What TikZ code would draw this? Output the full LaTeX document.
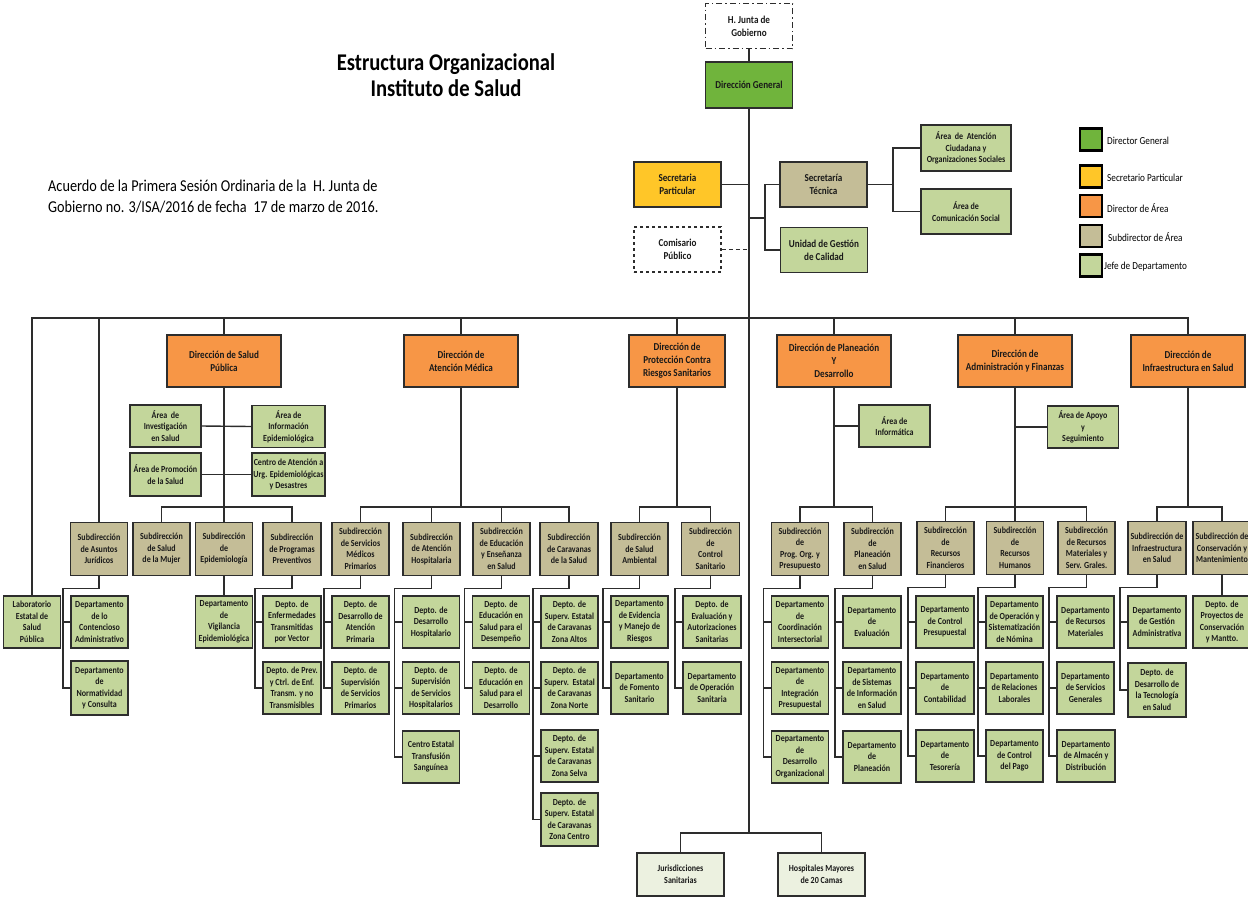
\documentclass[tikz,border=0pt]{standalone}
\usepackage{fontspec}
\setmainfont[FakeStretch=0.86]{Carlito}

\definecolor{dggreen}{RGB}{112,180,60}
\definecolor{spyellow}{RGB}{255,198,40}
\definecolor{dirorange}{RGB}{247,150,70}
\definecolor{subtan}{RGB}{196,189,151}
\definecolor{deptgreen}{RGB}{195,214,155}
\definecolor{palegreen}{RGB}{236,241,224}
\definecolor{linegray}{RGB}{45,45,45}

\newcommand{\dirfont}{\bfseries\fontsize{10.6}{13}\selectfont}
\newcommand{\deptfont}{\bfseries\fontsize{9.3}{11.5}\selectfont}

\tikzset{
  box/.style={draw=linegray, line width=1.7pt, align=center, inner sep=0pt, text=black!90},
  headbox/.style={box, minimum width=87, minimum height=45, font=\dirfont},
  dirbox/.style={box, fill=dirorange, minimum width=114, minimum height=52, font=\dirfont},
  areabox/.style={box, fill=deptgreen, minimum width=71, minimum height=42, font=\deptfont},
  subbox/.style={box, fill=subtan, minimum width=57, minimum height=53, font=\deptfont},
  deptbox/.style={box, fill=deptgreen, minimum width=57, minimum height=52, font=\deptfont},
  fieldbox/.style={box, fill=palegreen, minimum width=87, minimum height=43, font=\deptfont},
  legsq/.style={draw=black, line width=2.4pt, minimum size=22, inner sep=0pt},
  legtxt/.style={anchor=west, inner sep=0pt, font=\fontsize{10.7}{12}\selectfont},
  link/.style={draw=linegray, line width=1.4pt}
}

\begin{document}
\begin{tikzpicture}[x=1pt,y=-1pt]
\useasboundingbox (0,0) rectangle (1248,898);

% titles
\node[align=center, font=\bfseries\fontsize{24}{26}\selectfont] (title) at (446,75) {Estructura Organizacional\\Instituto de Salud};
\node[anchor=west, align=left, inner sep=0pt, font=\fontsize{16.6}{21.5}\selectfont] (acuerdo) at (48,196.5) {Acuerdo de la Primera Sesión Ordinaria de la\ \ H. Junta de\\Gobierno no. 3/ISA/2016 de fecha\ \ 17 de marzo de 2016.};

% top level
\node[headbox, fill=white, dash pattern=on 6pt off 3pt on 1.5pt off 3pt] (junta) at (749,26) {H. Junta de\\Gobierno};
\node[headbox, fill=dggreen, minimum height=46] (dg) at (749,85) {Dirección General};
\node[headbox, fill=spyellow] (sp) at (677.5,184.5) {Secretaria\\Particular};
\node[headbox, fill=subtan] (st) at (823.5,184.5) {Secretaría\\Técnica};
\node[headbox, fill=white, dashed] (cp) at (677.5,249.5) {Comisario\\Público};
\node[headbox, fill=deptgreen] (ugc) at (824,250) {Unidad de Gestión\\de Calidad};
\node[areabox, minimum width=90, minimum height=46] (aac) at (966,148) {Área\ \ de\ \ Atención\\Ciudadana y\\Organizaciones Sociales};
\node[areabox, minimum width=90, minimum height=45] (acs) at (966,211.5) {Área de\\Comunicación Social};

% legend
\node[legsq, fill=dggreen] (lg1) at (1091,139.5) {};
\node[legsq, fill=spyellow] (lg2) at (1091,176.5) {};
\node[legsq, fill=dirorange] (lg3) at (1091,206) {};
\node[legsq, fill=subtan] (lg4) at (1091,236) {};
\node[legsq, fill=deptgreen] (lg5) at (1091,265.5) {};
\node[legtxt] (lt1) at (1107,141) {Director General};
\node[legtxt] (lt2) at (1107,178) {Secretario Particular};
\node[legtxt] (lt3) at (1107,208) {Director de Área};
\node[legtxt] (lt4) at (1108,237) {Subdirector de Área};
\node[legtxt] (lt5) at (1104,267) {Jefe de Departamento};

% direcciones
\node[dirbox] (dsp) at (224,361) {Dirección de Salud\\Pública};
\node[dirbox] (dam) at (461,361) {Dirección de\\Atención Médica};
\node[dirbox, minimum width=96] (dpc) at (677,361) {Dirección de\\Protección Contra\\Riesgos Sanitarios};
\node[dirbox] (dpd) at (834,361) {Dirección de Planeación\\Y\\Desarrollo};
\node[dirbox] (daf) at (1015,361) {Dirección de\\Administración y Finanzas};
\node[dirbox] (dis) at (1188,361) {Dirección de\\Infraestructura en Salud};

% areas
\node[areabox] (ainv) at (165.5,426) {Área\ \ de\\Investigación\\en Salud};
\node[areabox, minimum width=73] (ainf) at (288.5,426.5) {Área de\\Información\\Epidemiológica};
\node[areabox, minimum height=43] (aprom) at (165.5,474.5) {Área de Promoción\\de la Salud};
\node[areabox, minimum width=73, minimum height=43] (caten) at (288.5,474.5) {Centro de Atención a\\Urg. Epidemiológicas\\y Desastres};
\node[areabox] (ainfo) at (894.5,426) {Área de\\Informática};
\node[areabox] (aapoyo) at (1083,427) {Área de Apoyo\\y\\Seguimiento};

% subdirecciones
\node[subbox] (saj) at (99,549) {Subdirección\\de Asuntos\\Jurídicos};
\node[subbox] (smuj) at (161.5,549) {Subdirección\\de Salud\\de la Mujer};
\node[subbox] (sepi) at (224,549) {Subdirección\\de\\Epidemiología};
\node[subbox, minimum width=58] (sprog) at (292,549) {Subdirección\\de Programas\\Preventivos};
\node[subbox] (ssmp) at (360.5,549) {Subdirección\\de Servicios\\Médicos\\Primarios};
\node[subbox] (sah) at (431.5,549) {Subdirección\\de Atención\\Hospitalaria};
\node[subbox] (see) at (501.5,549) {Subdirección\\de Educación\\y Enseñanza\\en Salud};
\node[subbox, minimum width=58] (scar) at (569,549) {Subdirección\\de Caravanas\\de la Salud};
\node[subbox] (ssa) at (639.5,549) {Subdirección\\de Salud\\Ambiental};
\node[subbox, minimum width=58] (scs) at (710.5,549) {Subdirección\\de\\Control\\Sanitario};
\node[subbox] (sprg) at (800,549) {Subdirección\\de\\Prog. Org. y\\Presupuesto};
\node[subbox] (splan) at (872.5,549) {Subdirección\\de\\Planeación\\en Salud};
\node[subbox] (srf) at (945.5,548) {Subdirección\\de\\Recursos\\Financieros};
\node[subbox] (srh) at (1015,548) {Subdirección\\de\\Recursos\\Humanos};
\node[subbox] (srm) at (1086.5,548) {Subdirección\\de Recursos\\Materiales y\\Serv. Grales.};
\node[subbox, minimum width=58] (sinf) at (1157,548) {Subdirección de\\Infraestructura\\en Salud};
\node[subbox, minimum width=58] (scons) at (1222,548) {Subdirección de\\Conservación y\\Mantenimiento};

% departamentos
\node[deptbox] (lab) at (32,622) {Laboratorio\\Estatal de\\Salud\\Pública};
\node[deptbox] (dcont) at (99.5,622) {Departamento\\de lo\\Contencioso\\Administrativo};
\node[deptbox, minimum height=54] (dnorm) at (99.5,688) {Departamento\\de\\Normatividad\\y Consulta};
\node[deptbox] (dvig) at (224,622) {Departamento\\de\\Vigilancia\\Epidemiológica};
\node[deptbox, minimum width=58] (denf) at (292,622) {Depto. de\\Enfermedades\\Transmitidas\\por Vector};
\node[deptbox, minimum width=58] (dprev) at (292,688) {Depto. de Prev.\\y Ctrl. de Enf.\\Transm. y no\\Transmisibles};
\node[deptbox] (ddap) at (360.5,622) {Depto. de\\Desarrollo de\\Atención\\Primaria};
\node[deptbox] (dssp) at (360.5,688) {Depto. de\\Supervisión\\de Servicios\\Primarios};
\node[deptbox] (ddh) at (431,622) {Depto. de\\Desarrollo\\Hospitalario};
\node[deptbox] (dssh) at (431,688) {Depto. de\\Supervisión\\de Servicios\\Hospitalarios};
\node[deptbox] (cets) at (431,757) {Centro Estatal\\Transfusión\\Sanguínea};
\node[deptbox] (dedes) at (501,622) {Depto. de\\Educación en\\Salud para el\\Desempeño};
\node[deptbox] (dedesa) at (501,688) {Depto. de\\Educación en\\Salud para el\\Desarrollo};
\node[deptbox] (dzalt) at (569.5,622) {Depto. de\\Superv. Estatal\\de Caravanas\\Zona Altos};
\node[deptbox] (dznor) at (569.5,688) {Depto. de\\Superv.\ \ Estatal\\de Caravanas\\Zona Norte};
\node[deptbox] (dzsel) at (569.5,756) {Depto. de\\Superv. Estatal\\de Caravanas\\Zona Selva};
\node[deptbox, minimum height=53] (dzcen) at (569.5,819.5) {Depto. de\\Superv. Estatal\\de Caravanas\\Zona Centro};
\node[deptbox] (devi) at (639.5,622) {Departamento\\de Evidencia\\y Manejo de\\Riesgos};
\node[deptbox] (dfom) at (639.5,688) {Departamento\\de Fomento\\Sanitario};
\node[deptbox, minimum width=58] (deval) at (712,622) {Depto. de\\Evaluación y\\Autorizaciones\\Sanitarias};
\node[deptbox, minimum width=58] (dops) at (712,688) {Departamento\\de Operación\\Sanitaria};
\node[deptbox] (dcoord) at (800,622) {Departamento\\de\\Coordinación\\Intersectorial};
\node[deptbox] (dinteg) at (800,688) {Departamento\\de\\Integración\\Presupuestal};
\node[deptbox] (ddorg) at (800,757) {Departamento\\de\\Desarrollo\\Organizacional};
\node[deptbox, minimum width=58] (deval2) at (872,622) {Departamento\\de\\Evaluación};
\node[deptbox, minimum width=58] (dsis) at (872,688) {Departamento\\de Sistemas\\de Información\\en Salud};
\node[deptbox, minimum width=58] (dplan) at (872,757) {Departamento\\de\\Planeación};
\node[deptbox, minimum width=58] (dcpres) at (945,622) {Departamento\\de Control\\Presupuestal};
\node[deptbox, minimum width=58] (dcont2) at (945,688) {Departamento\\de\\Contabilidad};
\node[deptbox, minimum width=58] (dtes) at (945,756) {Departamento\\de\\Tesorería};
\node[deptbox] (doper) at (1014.5,622) {Departamento\\de Operación y\\Sistematización\\de Nómina};
\node[deptbox] (drel) at (1014.5,688) {Departamento\\de Relaciones\\Laborales};
\node[deptbox] (dpago) at (1014.5,756) {Departamento\\de Control\\del Pago};
\node[deptbox] (drmat) at (1085.5,622) {Departamento\\de Recursos\\Materiales};
\node[deptbox] (dsgen) at (1085.5,688) {Departamento\\de Servicios\\Generales};
\node[deptbox, minimum width=58] (dalm) at (1086,756) {Departamento\\de Almacén y\\Distribución};
\node[deptbox, minimum width=58] (dgest) at (1157,622) {Departamento\\de Gestión\\Administrativa};
\node[deptbox, minimum width=58, minimum height=54] (ddtec) at (1157,690) {Depto. de\\Desarrollo de\\la Tecnología\\en Salud};
\node[deptbox, minimum width=58] (dproy) at (1222,622) {Depto. de\\Proyectos de\\Conservación\\y Mantto.};

% jurisdicciones y hospitales
\node[fieldbox] (jur) at (680.5,874.5) {Jurisdicciones\\Sanitarias};
\node[fieldbox] (hosp) at (821.5,874.5) {Hospitales Mayores\\de 20 Camas};

% connectors, top
\coordinate (dirbar) at (0,318);
\coordinate (subbar) at (0,507);
\coordinate (split) at (749,833);
\coordinate (stj) at (765,218);
\coordinate (stb) at (893,184.5);
\path[draw,link] (junta.south) -- (dg.north);
\path[draw,link] (dg.south) -- (split);
\path[draw,link] (sp.east) -- (sp.east -| dg);
\path[draw,link] (stj -| dg) -- (stj);
\path[draw,link] (st.west) -| (stj) |- (ugc.west);
\path[draw,link,dash pattern=on 4pt off 3pt] (cp.east) -- (cp.east -| dg);
\path[draw,link] (st.east) -- (stb);
\path[draw,link] (aac.west) -| (stb) |- (acs.west);
\path[draw,link] (jur.north) |- (split) -| (hosp.north);

% connectors, direcciones
\path[draw,link] (lab.north) |- (dis.north |- dirbar) -- (dis.north);
\foreach \n in {saj,dsp,dam,dpc,dpd,daf}
  \path[draw,link] (\n.north) -- (\n.north |- dirbar);
\path[draw,link] (ainv.east) -- (ainf.west);
\path[draw,link] (aprom.east) -- (caten.west);
\path[draw,link] (ainfo.west) -- (ainfo.west -| dpd);
\path[draw,link] (aapoyo.west) -- (aapoyo.west -| daf);

% connectors, subdirecciones
\foreach \n in {dsp,dam,dpc,dpd,daf,dis}
  \path[draw,link] (\n.south) -- (\n.south |- subbar);
\path[draw,link] (smuj.north) |- (subbar -| dsp) -| (sprog.north);
\path[draw,link] (ssmp.north) |- (subbar -| dam) -| (scar.north);
\path[draw,link] (ssa.north) |- (subbar -| dpc) -| (scs.north);
\path[draw,link] (sprg.north) |- (subbar -| dpd) -| (splan.north);
\path[draw,link] (srf.north) |- (subbar -| daf) -| (srm.north);
\path[draw,link] (sinf.north) |- (subbar -| dis) -| (scons.north);
\foreach \n in {sepi,sah,see,srh}
  \path[draw,link] (\n.north) -- (\n.north |- subbar);

% connectors, departamentos
\path[draw,link] (sepi.south) -- (dvig.north);
\path[draw,link] (scons.south) -- (dproy.north);
\foreach \s/\d in {saj/dnorm,sprog/dprev,ssmp/dssp,sah/cets,see/dedesa,scar/dzcen,ssa/dfom,scs/dops,sprg/ddorg,splan/dplan,srf/dtes,srh/dpago,srm/dalm,sinf/ddtec}
  \path[draw,link] (\s.south) -- ++(0,12) -| ([xshift=-7pt]\d.west) -- (\d.west);
\foreach \d in {dcont,denf,ddap,ddh,dssh,dedes,dzalt,dznor,dzsel,devi,deval,dcoord,dinteg,deval2,dsis,dcpres,dcont2,doper,drel,drmat,dsgen,dgest}
  \path[draw,link] (\d.west) -- ++(-7,0);
\end{tikzpicture}
\end{document}
